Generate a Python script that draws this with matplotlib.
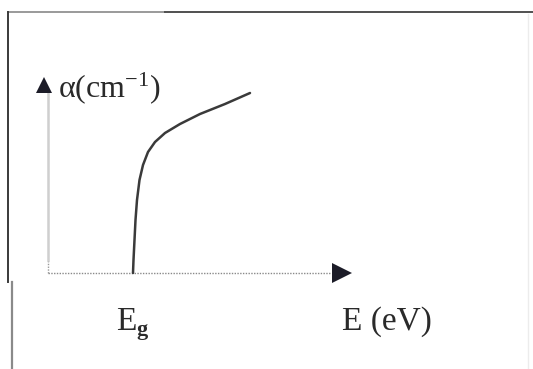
import matplotlib
matplotlib.use('Agg')
import matplotlib.pyplot as plt
from matplotlib.lines import Line2D

plt.rcParams['mathtext.fontset'] = 'custom'
plt.rcParams['mathtext.rm'] = 'Liberation Serif'
plt.rcParams['mathtext.it'] = 'Liberation Serif:italic'
plt.rcParams['font.family'] = ['Liberation Serif', 'DejaVu Serif']

# absorption edge sketch: alpha rises steeply from Eg and then flattens
energy = [0.85, 0.855, 0.865, 0.875, 0.89, 0.915, 0.95, 1.00, 1.07, 1.17, 1.32, 1.52, 1.77, 2.02]
alpha = [0.00, 0.13, 0.33, 0.53, 0.73, 0.93, 1.08, 1.21, 1.31, 1.40, 1.49, 1.59, 1.69, 1.80]
e_gap = 0.85
x_axis_end = 2.82
y_axis_top = 1.80

fig = plt.figure(figsize=(5.33, 3.69), dpi=100)
ax = fig.add_axes([0, 0, 1, 1])
ax.set_xlim(-0.48, 4.85)
ax.set_ylim(-0.96, 2.73)
ax.axis('off')

# axes drawn by hand: dotted E axis, faint alpha axis, solid arrowheads
ax.plot([0, x_axis_end], [0, 0], color='#8a8a8a', lw=1.0, ls=(0, (1, 1)))
ax.plot([0, 0], [0, 0.13], color='#9a9a9a', lw=1.0, ls=(0, (1, 1)))
ax.plot([0, 0], [0.13, y_axis_top], color='#cfcfcf', lw=1.8)
ax.plot([x_axis_end + 0.12], [0], marker='>', ms=14, color='#1c1c28', mew=0)
ax.plot([-0.035], [y_axis_top + 0.075], marker='^', ms=11, color='#1c1c28', mew=0)

ax.plot(energy, alpha, color='#3a3a3a', lw=1.8, solid_capstyle='round',
        solid_joinstyle='round')

ax.text(0.10, 1.76, r'$\mathregular{\alpha(cm^{-1})}$', fontsize=23,
        color='#2a2a2a', ha='left', va='baseline')
ax.text(e_gap - 0.17, -0.57, 'E', fontsize=24, color='#2a2a2a',
        ha='left', va='baseline')
ax.text(e_gap + 0.03, -0.62, 'g', fontsize=16, fontweight='bold', color='#2a2a2a',
        ha='left', va='baseline')
ax.text(2.94, -0.57, 'E (eV)', fontsize=24, color='#2a2a2a',
        ha='left', va='baseline')

# scanned frame edges
W, H = 533.0, 369.0
fig.add_artist(Line2D([8 / W, 165 / W], [1 - 12 / H] * 2, color='#9a9a9a', lw=1.4))
fig.add_artist(Line2D([165 / W, 1], [1 - 12 / H] * 2, color='#505050', lw=1.4))
fig.add_artist(Line2D([8 / W] * 2, [1 - 12 / H, 1 - 282 / H], color='#3a3a3a', lw=1.4))
fig.add_artist(Line2D([11.5 / W] * 2, [1 - 282 / H, 0], color='#8a8a8a', lw=1.6))
fig.add_artist(Line2D([528 / W] * 2, [1 - 14 / H, 0], color='#ececec', lw=1.0))

fig.savefig('out.png', dpi=100, facecolor='white')
